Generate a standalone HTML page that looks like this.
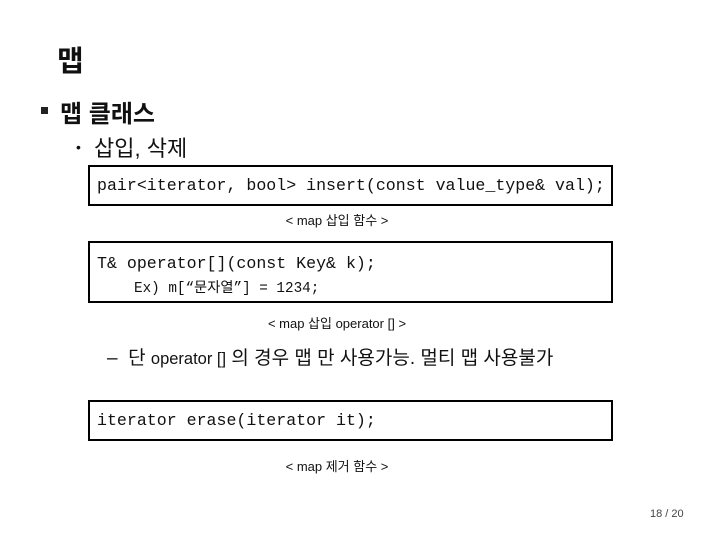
<!DOCTYPE html>
<html><head><meta charset="utf-8"><style>
body{margin:0;width:720px;height:540px;background:#fff;position:relative;overflow:hidden;font-family:"Liberation Sans","Noto Sans CJK KR",sans-serif;color:#111}
.a{position:absolute;white-space:pre}
.box{position:absolute;left:88px;width:521px;border:2px solid #000;box-sizing:content-box}
.m{font-family:"Liberation Mono","Noto Sans CJK KR",monospace;font-size:16.6px}
.cap{position:absolute;font-size:13px;white-space:pre;left:0;width:674px;text-align:center}
</style></head><body>
<div class="a" style="left:57px;top:38px;font-size:29px;font-weight:bold">맵</div>
<div class="a" style="left:41px;top:107px;width:7px;height:7px;background:#222"></div>
<div class="a" style="left:60px;top:94px;font-size:24px;font-weight:bold">맵 클래스</div>
<div class="a" style="left:76px;top:139px;font-size:14px">•</div>
<div class="a" style="left:94px;top:131px;font-size:22px">삽입, 삭제</div>
<div class="box" style="top:165px;height:37px"><div class="a m" style="left:7px;top:9px">pair&lt;iterator, bool&gt; insert(const value_type&amp; val);</div></div>
<div class="cap" style="top:210px">&lt; map 삽입 함수 &gt;</div>
<div class="box" style="top:241px;height:58px"><div class="a m" style="left:7px;top:11px">T&amp; operator[](const Key&amp; k);</div><div class="a m" style="left:44px;top:33px;font-size:14.3px">Ex) m[“문자열”] = 1234;</div></div>
<div class="cap" style="top:313px">&lt; map 삽입 operator [] &gt;</div>
<div class="a" style="left:107px;top:343px;font-size:19px">–  단 <span style="font-size:16.5px">operator []</span> 의 경우 맵 만 사용가능. 멀티 맵 사용불가</div>
<div class="box" style="top:400px;height:37px"><div class="a m" style="left:7px;top:9px">iterator erase(iterator it);</div></div>
<div class="cap" style="top:456px">&lt; map 제거 함수 &gt;</div>
<div class="a" style="left:650px;top:508px;font-size:11px;color:#444">18 / 20</div>
</body></html>
